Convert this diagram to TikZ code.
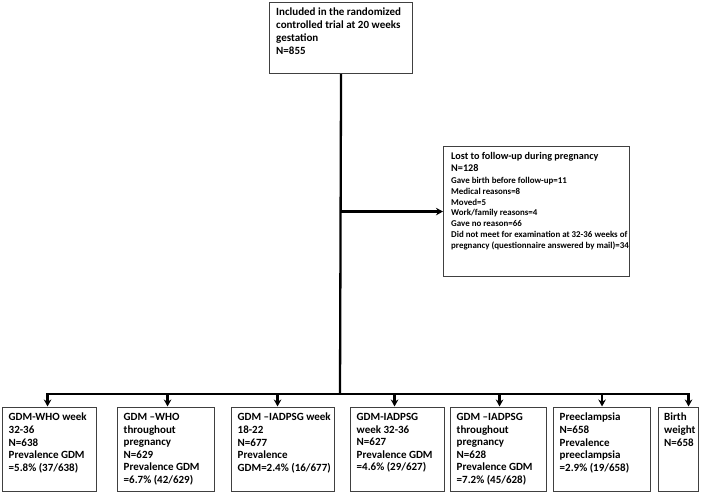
\documentclass[tikz,border=0pt]{standalone}
\usepackage{fontspec}
\setmainfont{Carlito}
\usetikzlibrary{arrows.meta,calc}
\begin{document}
\begin{tikzpicture}[x=1pt,y=-1pt,
  box/.style={draw=black!75,line width=1.1pt,inner sep=0pt,anchor=north west},
  txt/.style={inner sep=0pt,anchor=north west,align=left,
    font=\fontsize{11}{12.6}\selectfont\bfseries},
  conn/.style={line width=2.3pt,black},
  arr/.style={conn,-{Stealth[length=7pt,width=7.5pt]}}
]
\useasboundingbox (0,0) rectangle (710,497);
\fill[white] (0,0) rectangle (710,497);

% top box
\node[box,minimum width=143pt,minimum height=71pt] (top) at (269,2) {};
\node[txt,font=\fontsize{11}{12.7}\selectfont\bfseries] (toptxt) at ($(top.north west)+(7,6)$)
  {Included in the randomized\\controlled trial at 20 weeks\\gestation\\N=855};

% lost box
\node[box,minimum width=186pt,minimum height=130pt] (lost) at (443,146) {};
\node[txt,font=\fontsize{10.2}{12}\selectfont\bfseries] (losthead) at ($(lost.north west)+(8,6)$)
  {Lost to follow-up during pregnancy\\N=128};
\node[txt,font=\fontsize{8.9}{10.8}\selectfont\bfseries] (lostlist) at ($(lost.north west)+(8,31)$)
  {Gave birth before follow-up=11\\
   Medical reasons=8\\Moved=5\\Work/family reasons=4\\Gave no reason=66\\
   Did not meet for examination at 32-36 weeks of\\
   pregnancy (questionnaire answered by mail)=34};

% bottom boxes
\node[box,minimum width=94pt,minimum height=84pt] (b1) at (2,406.5) {};
\node[box,minimum width=97pt,minimum height=84pt] (b2) at (117,406.5) {};
\node[box,minimum width=103pt,minimum height=84pt] (b3) at (231,406.5) {};
\node[box,minimum width=94pt,minimum height=84pt] (b4) at (350,406.5) {};
\node[box,minimum width=96pt,minimum height=84pt] (b5) at (450,406.5) {};
\node[box,minimum width=97pt,minimum height=84pt] (b6) at (553,406.5) {};
\node[box,minimum width=40pt,minimum height=84pt] (b7) at (658,406.5) {};

\node[txt] (t1) at ($(b1.north west)+(6.5,6.5)$)
  {GDM-WHO week\\32-36\\N=638\\Prevalence GDM\\=5.8\% (37/638)};
\node[txt] (t2) at ($(b2.north west)+(6.5,6.5)$)
  {GDM –WHO\\throughout\\pregnancy\\N=629\\Prevalence GDM\\=6.7\% (42/629)};
\node[txt] (t3) at ($(b3.north west)+(6.5,6.5)$)
  {GDM –IADPSG week\\18-22\\N=677\\Prevalence\\GDM=2.4\% (16/677)};
\node[txt] (t4) at ($(b4.north west)+(6.5,6.5)$)
  {GDM-IADPSG\\week 32-36\\N=627\\Prevalence GDM\\=4.6\% (29/627)};
\node[txt] (t5) at ($(b5.north west)+(6.5,6.5)$)
  {GDM –IADPSG\\throughout\\pregnancy\\N=628\\Prevalence GDM\\=7.2\% (45/628)};
\node[txt] (t6) at ($(b6.north west)+(6.5,6.5)$)
  {Preeclampsia\\N=658\\Prevalence\\preeclampsia\\=2.9\% (19/658)};
\node[txt] (t7) at ($(b7.north west)+(6,6.5)$)
  {Birth\\weight\\N=658};

% connectors
\coordinate (bus) at (340,394);
\draw[conn] (top.south) -- (bus);
\draw[arr] (top.south |- lost.west) -- (lost.west);
\draw[conn,line cap=rect] ([xshift=-2pt]b1.north |- bus) -- ([xshift=10pt]b7.north |- bus);
\draw[arr] ([xshift=-2pt]b1.north |- bus) -- ([xshift=-2pt]b1.north);
\draw[arr] ([xshift=1.5pt]b2.north |- bus) -- ([xshift=1.5pt]b2.north);
\draw[arr] ([xshift=-5.5pt]b3.north |- bus) -- ([xshift=-5.5pt]b3.north);
\draw[arr] ([xshift=-3pt]b4.north |- bus) -- ([xshift=-3pt]b4.north);
\draw[arr] ([xshift=1pt]b5.north |- bus) -- ([xshift=1pt]b5.north);
\draw[arr] ([xshift=0pt]b6.north |- bus) -- ([xshift=0pt]b6.north);
\draw[arr] ([xshift=10pt]b7.north |- bus) -- ([xshift=10pt]b7.north);
\end{tikzpicture}
\end{document}
